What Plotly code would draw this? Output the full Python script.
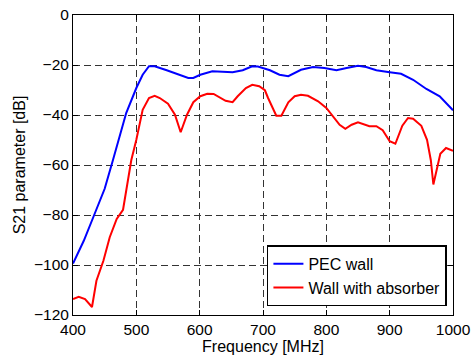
import plotly.graph_objects as go

pec_freq = [400, 417, 432, 450, 463, 484, 500, 510, 520, 529, 548, 582, 590, 601, 620, 652, 668, 683, 692,
            711, 726, 740, 760, 779, 797, 816, 832, 850, 863, 879, 900, 918, 937, 958, 979, 1000]
pec_db = [-99.4, -90.3, -80.9, -69.5, -58.1, -39.2, -29.2, -23.9, -20.5, -20.5, -22.1, -25.2, -25.2, -23.9, -22.5,
          -22.9, -22.1, -20.5, -20.6, -22.1, -23.9, -24.5, -21.9, -20.8, -21.2, -22.1, -21.2, -20.3, -20.8, -22.1,
          -22.9, -23.5, -25.9, -29.6, -32.5, -38.1]

abs_freq = [400, 409, 419, 430, 437, 448, 458, 469, 479, 487, 492, 500, 510, 520, 529, 537, 550, 561, 570, 580,
            590, 601, 612, 622, 641, 652, 660, 673, 683, 694, 703, 708, 721, 729, 740, 750, 760, 771, 787, 800,
            810, 821, 830, 840, 850, 868, 879, 889, 900, 909, 920, 929, 937, 950, 959, 965, 969, 974, 980, 989, 1000]
abs_db = [-113.6, -112.7, -113.6, -116.8, -106.3, -98.3, -88.9, -81.6, -77.9, -66.2, -58.1, -49.9, -37.9, -33.2,
          -32.3, -33.2, -35.5, -39.9, -46.9, -39.9, -34.9, -32.5, -31.5, -31.6, -34.3, -34.9, -32.5, -29.2, -27.9,
          -28.5, -30.1, -33.2, -40.3, -40.3, -34.9, -32.5, -31.9, -32.3, -34.5, -37.2, -40.3, -43.9, -45.5, -43.9,
          -42.9, -44.5, -44.5, -46.1, -50.5, -51.5, -44.3, -41.2, -41.5, -44.3, -49.9, -58.1, -67.8, -61.9, -55.5,
          -53.2, -54.3]

x_ticks = [400, 500, 600, 700, 800, 900, 1000]
y_ticks = [-120, -100, -80, -60, -40, -20, 0]

fig = go.Figure()
fig.add_trace(go.Scatter(x=pec_freq, y=pec_db, mode="lines", name="PEC wall",
                         line=dict(color="#0000ff", width=2)))
fig.add_trace(go.Scatter(x=abs_freq, y=abs_db, mode="lines", name="Wall with absorber",
                         line=dict(color="#ff0000", width=2)))

axis_common = dict(showline=True, linecolor="black", linewidth=1, mirror="ticks",
                   ticks="inside", ticklen=5, tickcolor="black", automargin=False,
                   ticklabeloverflow="allow",
                   showgrid=True, gridcolor="#333333", gridwidth=1, griddash="7px,4px",
                   zeroline=False, tickfont=dict(size=15.5, color="black"))

fig.update_xaxes(range=[400, 1000], tickvals=x_ticks,
                 title=dict(text="Frequency [MHz]", font=dict(size=16, color="black"), standoff=0),
                 **axis_common)
fig.update_yaxes(range=[-120, 0], tickvals=y_ticks,
                 title=dict(text="S21 parameter [dB]", font=dict(size=16, color="black"), standoff=4),
                 **axis_common)

fig.update_layout(
    width=471, height=358,
    margin=dict(l=73, r=18, t=15, b=43),
    paper_bgcolor="white", plot_bgcolor="white",
    font=dict(family="Liberation Sans, Arial, sans-serif", color="black"),
    legend=dict(x=0.984, y=0.029, xanchor="right", yanchor="bottom",
                bgcolor="white", bordercolor="black", borderwidth=1.5,
                font=dict(size=16, color="black"), tracegroupgap=0,
                itemwidth=30),
    showlegend=True,
    hovermode=False,
)

fig.write_html("out.html", config={"displayModeBar": False, "staticPlot": True},
               post_script="document.body.style.margin='0';document.body.style.overflow='hidden';")
